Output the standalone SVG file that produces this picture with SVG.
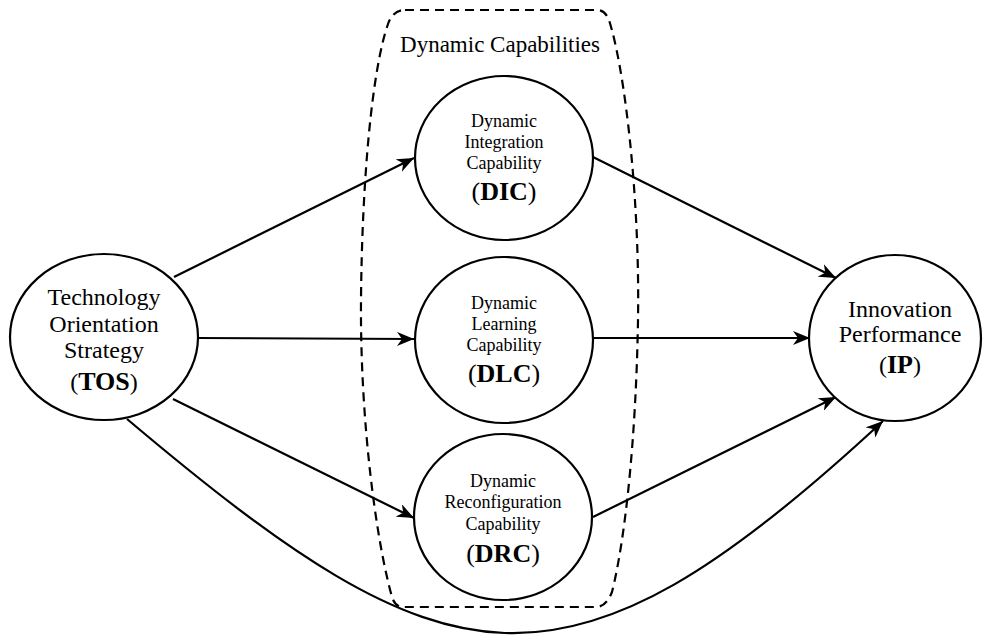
<svg xmlns="http://www.w3.org/2000/svg" width="985" height="636" viewBox="0 0 985 636" font-family="Liberation Serif, serif">
<defs>
<style>
.node{fill:#fff;stroke:#000;stroke-width:2.2}
text{font-family:'Liberation Serif',serif;fill:#000;text-anchor:middle}
.s{font-size:18px}
.m{font-size:24px}
.b{font-weight:bold}
.c{fill:none;stroke:#000;stroke-width:2.2}
.dash{fill:none;stroke:#000;stroke-width:2.2;stroke-dasharray:9,6}
</style>
<marker id="ah" markerUnits="userSpaceOnUse" markerWidth="18" markerHeight="14" viewBox="0 0 18 14" refX="17" refY="7" orient="auto">
<path d="M0,0 L17,7 L0,14 L5,7 Z" fill="#000"/>
</marker>
</defs>
<rect width="985" height="636" fill="#fff"/>
<g id="dynamic-capabilities">
<path class="dash" d="M405,10 L597,10 Q605,10 609,20 C625,70 640,200 638,320 C636,440 625,540 612,592 Q606,607 596,607 L403,607 Q395,607 392,597 C376,540 360,420 361,300 C362,180 372,70 388,24 Q393,10 405,10 Z"/>
<text x="500" y="52" font-size="23">Dynamic Capabilities</text>
</g>
<g id="connectors">
<line class="c" x1="174" y1="277" x2="414" y2="158" marker-end="url(#ah)"/>
<line class="c" x1="198" y1="338" x2="414" y2="339" marker-end="url(#ah)"/>
<line class="c" x1="173" y1="399" x2="414" y2="518" marker-end="url(#ah)"/>
<line class="c" x1="593" y1="157" x2="836" y2="278" marker-end="url(#ah)"/>
<line class="c" x1="593" y1="338" x2="810" y2="338" marker-end="url(#ah)"/>
<line class="c" x1="593" y1="517" x2="836" y2="397" marker-end="url(#ah)"/>
<path class="c" d="M127,419 C447,689 562,719 883,421" marker-end="url(#ah)"/>
</g>
<g id="TOS">
<ellipse class="node" cx="104" cy="337" rx="94" ry="83"/>
<text class="m" x="104" y="305">Technology</text>
<text class="m" x="104" y="332">Orientation</text>
<text class="m" x="104" y="358">Strategy</text>
<text class="m" x="104" y="390">(<tspan class="b" font-size="26">TOS</tspan>)</text>
</g>
<g id="DIC">
<ellipse class="node" cx="504" cy="158" rx="89" ry="82"/>
<text class="s" x="504" y="127">Dynamic</text>
<text class="s" x="504" y="148">Integration</text>
<text class="s" x="504" y="169">Capability</text>
<text x="504" y="200" font-size="26">(<tspan class="b">DIC</tspan>)</text>
</g>
<g id="DLC">
<ellipse class="node" cx="504" cy="340" rx="89" ry="83"/>
<text class="s" x="504" y="309">Dynamic</text>
<text class="s" x="504" y="330">Learning</text>
<text class="s" x="504" y="351">Capability</text>
<text x="504" y="382" font-size="26">(<tspan class="b">DLC</tspan>)</text>
</g>
<g id="DRC">
<ellipse class="node" cx="503" cy="517" rx="89" ry="83"/>
<text class="s" x="503" y="487">Dynamic</text>
<text class="s" x="503" y="508">Reconfiguration</text>
<text class="s" x="503" y="530">Capability</text>
<text x="503" y="562" font-size="26">(<tspan class="b">DRC</tspan>)</text>
</g>
<g id="IP">
<ellipse class="node" cx="895" cy="338" rx="86" ry="83"/>
<text class="m" x="900" y="317">Innovation</text>
<text class="m" x="900" y="342">Performance</text>
<text class="m" x="900" y="373">(<tspan class="b" font-size="26">IP</tspan>)</text>
</g>
</svg>
